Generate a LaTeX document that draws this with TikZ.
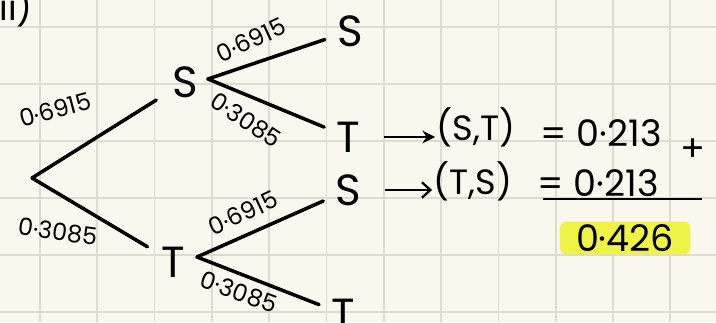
\documentclass[tikz,border=0pt]{standalone}
\usepackage{fontspec}
\setmainfont{Poppins}
\usetikzlibrary{positioning,arrows.meta}
\definecolor{paper}{RGB}{250,247,238}
\definecolor{gridline}{RGB}{222,219,208}
\definecolor{marker}{RGB}{238,243,70}

\begin{document}
\begin{tikzpicture}[
    x=0.025cm, y=-0.025cm,
    >=Stealth,
    branch/.style={line width=2.5pt, line cap=round},
    outcome/.style={font=\fontsize{31}{33}\selectfont, inner sep=1pt},
    prob/.style={font=\fontsize{17}{19}\selectfont, inner sep=0pt},
    pair/.style={font=\fontsize{25}{27}\selectfont, inner sep=1pt},
    result/.style={font=\fontsize{26}{28}\selectfont, inner sep=1pt}
]

% paper and grid
\fill[paper] (0,0) rectangle (716,322);
\useasboundingbox (0,0) rectangle (716,322);
\foreach \gx in {40,97.3,...,700} \draw[gridline, line width=1.2pt] (\gx,0) -- (\gx,322);
\foreach \gy in {27,84,...,320} \draw[gridline, line width=1.2pt] (0,\gy) -- (716,\gy);

\node[pair, anchor=north west] (part) at (-2,-14) {ii)};

% tree
\coordinate (root) at (32,178);
\node[outcome] (nS) at (185,82) {S};
\node[outcome] (nT) at (173,262) {T};
\coordinate (forkS) at (208,79);
\coordinate (forkT) at (197,257);

\node[outcome] (lSS) at (350,31) {S};
\node[outcome] (lST) at (348,137) {T};
\node[outcome] (lTS) at (348,190) {S};
\node[outcome] (lTT) at (343,314) {T};

\draw[branch, shorten >=12pt] (root) -- (nS);
\draw[branch, shorten >=10pt] (root) -- (nT);
\draw[branch, shorten >=8pt] (forkS) -- (lSS);
\draw[branch, shorten >=8pt] (forkS) -- (lST);
\draw[branch, shorten >=8pt] (forkT) -- (lTS);
\draw[branch, shorten >=8pt] (forkT) -- (lTT);

% probabilities
\node[prob, rotate=15] (p1) at (55,110) {0·6915};
\node[prob, rotate=-8] (p2) at (58,232) {0·3085};
\node[prob, rotate=25] (p3) at (251,40) {0·6915};
\node[prob, rotate=-33] (p4) at (246,120) {0·3085};
\node[prob, rotate=25] (p5) at (243,213) {0·6915};
\node[prob, rotate=-20] (p6) at (239,292) {0·3085};

% outcomes of interest
\node[pair] (pairST) at (476,127) {(S,T)};
\node[result] (valST) at (601,133) {= 0·213};
\node[pair] (pairTS) at (473,181) {(T,S)};
\node[result] (valTS) at (598,183) {= 0·213};
\node[result] (plus) at (693,150) {+};

\draw[line width=2pt, -{Stealth[length=9pt,width=9pt]}, shorten <=16pt] (lST) -- (pairST.west |- lST);
\draw[line width=1.6pt, -{Straight Barb[length=6pt,width=11pt]}, shorten <=16pt] (lTS) -- (pairTS.west |- lTS);

\coordinate (sumL) at (543,199);
\coordinate (sumR) at (702,199);
\draw[line width=1.8pt] (sumL) -- (sumR);

\node[result, fill=marker, rounded corners=4pt, minimum width=3.25cm, minimum height=0.82cm, inner sep=0pt] (total) at (625,238) {0·426};

\end{tikzpicture}
\end{document}
